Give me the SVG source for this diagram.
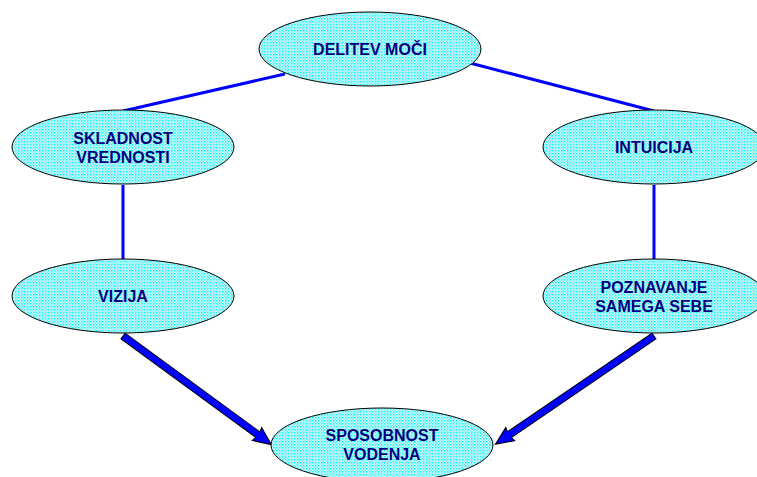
<svg xmlns="http://www.w3.org/2000/svg" width="757" height="477" viewBox="0 0 757 477">
<defs>
<pattern id="dots" width="3" height="3" patternUnits="userSpaceOnUse">
<rect width="3" height="3" fill="#dff3f3"/>
<rect x="0" y="0" width="1.5" height="1.5" fill="#00ffff"/>
<rect x="1.5" y="1.5" width="1.5" height="1.5" fill="#7ff5f5"/>
</pattern>
</defs>
<style>
.node ellipse{fill:url(#dots);stroke:#000;stroke-width:1}
.node text{font-family:"Liberation Sans",Arial,sans-serif;font-weight:bold;font-size:16px;fill:#000080;text-anchor:middle}
.conn line{stroke:#0000ff;stroke-width:3}
.conn polygon{fill:#0000ff;stroke:#000;stroke-width:1}
</style>
<rect width="757" height="477" fill="#fff"/>
<g id="connectors" class="conn">
<line x1="285" y1="74" x2="123" y2="111"/>
<line x1="470" y1="63" x2="654" y2="111"/>
<line x1="123" y1="185" x2="123" y2="259"/>
<line x1="654" y1="185" x2="654" y2="259"/>
<polygon transform="translate(123,336) rotate(36.2)" points="0,-3.5 167,-3.5 166,-8 184,0 166,8 167,3.5 0,3.5"/>
<polygon transform="translate(654,336) rotate(145.7)" points="0,-3.5 175,-3.5 174,-8 192,0 174,8 175,3.5 0,3.5"/>
</g>
<g id="delitev" class="node">
<ellipse cx="370" cy="49" rx="111" ry="37"/>
<text x="370" y="55">DELITEV MOČI</text>
</g>
<g id="skladnost" class="node">
<ellipse cx="123" cy="147" rx="111" ry="37"/>
<text x="123" y="144">SKLADNOST</text>
<text x="123" y="163">VREDNOSTI</text>
</g>
<g id="intuicija" class="node">
<ellipse cx="654" cy="147" rx="111" ry="37"/>
<text x="654" y="153">INTUICIJA</text>
</g>
<g id="vizija" class="node">
<ellipse cx="123" cy="296" rx="111" ry="37"/>
<text x="123" y="302">VIZIJA</text>
</g>
<g id="poznavanje" class="node">
<ellipse cx="654" cy="296" rx="111" ry="37"/>
<text x="654" y="293">POZNAVANJE</text>
<text x="654" y="312">SAMEGA SEBE</text>
</g>
<g id="sposobnost" class="node">
<ellipse cx="382" cy="445" rx="111" ry="37"/>
<text x="382" y="441">SPOSOBNOST</text>
<text x="382" y="460">VODENJA</text>
</g>
</svg>
